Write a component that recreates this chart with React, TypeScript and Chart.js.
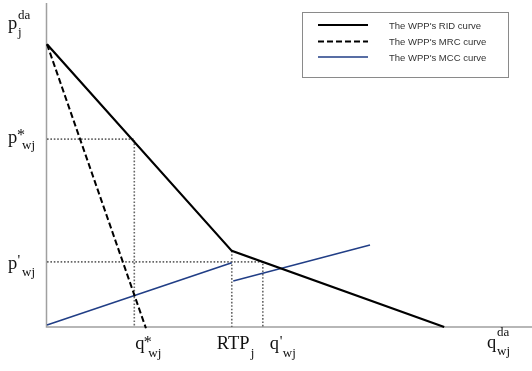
import React, { useEffect, useRef } from "react";
import { Chart, registerables } from "chart.js";

Chart.register(...registerables);

// Curves (arbitrary quantity / price units)
const ridX = [0, 38.1, 81.9];
const ridY = [87.3, 23.5, 0];
const mrcX = [0, 20.4];
const mrcY = [87.3, -0.4];
const mcc1X = [0, 38.1];
const mcc1Y = [0.6, 19.8];
const mcc2X = [38.4, 66.6];
const mcc2Y = [14.2, 25.3];

// Reference levels
const pStar = 58;
const qStar = 18;
const pPrime = 20.1;
const qPrime = 44.5;
const rtpQ = 38.1;
const rtpP = 23.5;

const legendLabels = ["The WPP's RID curve", "The WPP's MRC curve", "The WPP's MCC curve"];

const zip = (xs: number[], ys: number[]) => xs.map((x, i) => ({ x, y: ys[i] }));

const SERIF = "'Liberation Serif', 'Times New Roman', serif";
const MAIN = 18.5;
const SMALL = 13;

export default function App() {
  const ref = useRef<HTMLCanvasElement | null>(null);

  useEffect(() => {
    if (!ref.current) return;
    const dotted = {
      borderColor: "#666",
      borderWidth: 1.6,
      borderDash: [1.6, 1.8],
      pointRadius: 0,
      showLine: true,
      clip: false as any,
      tension: 0,
    };
    const navy = "#213e86";

    const overlay = {
      id: "overlay",
      beforeDatasetsDraw(chart: any) {
        const { ctx, chartArea } = chart;
        ctx.save();
        ctx.strokeStyle = "#a0a0a0";
        ctx.lineWidth = 1.5;
        ctx.beginPath();
        ctx.moveTo(chartArea.left - 0.5, chartArea.top);
        ctx.lineTo(chartArea.left - 0.5, chartArea.bottom);
        ctx.lineTo(chartArea.right, chartArea.bottom);
        ctx.stroke();
        ctx.restore();
      },
      afterDraw(chart: any) {
        const { ctx } = chart;
        const xs = chart.scales.x;
        const ys = chart.scales.y;
        const txt = (s: string, x: number, y: number, size: number) => {
          ctx.font = `${size}px ${SERIF}`;
          ctx.fillText(s, x, y);
        };
        ctx.save();
        ctx.fillStyle = "#111";
        ctx.textBaseline = "alphabetic";
        ctx.textAlign = "left";

        // y axis title
        txt("p", 8, 29, MAIN);
        txt("da", 18, 19, SMALL);
        txt("j", 18, 36, SMALL);

        // p*
        const ps = ys.getPixelForValue(pStar);
        txt("p", 8, ps + 4, MAIN);
        txt("*", 17, ps + 1, 16);
        txt("wj", 22, ps + 10, SMALL);

        // p'
        const pp = ys.getPixelForValue(pPrime);
        txt("p", 8, pp + 7, MAIN);
        txt("'", 17.5, pp + 3, 15);
        txt("wj", 22, pp + 14, SMALL);

        const base = 349;
        // q*
        const qs = xs.getPixelForValue(qStar);
        txt("q", qs + 1, base, MAIN);
        txt("*", qs + 9.5, base - 2, 16);
        txt("wj", qs + 14, base + 8, SMALL);

        // RTP_j
        const rt = xs.getPixelForValue(rtpQ);
        txt("RTP", rt - 15, base, MAIN);
        txt("j", rt + 19, base + 8, SMALL);

        // q'
        const qp = xs.getPixelForValue(qPrime);
        txt("q", qp + 7, base, MAIN);
        txt("'", qp + 17, base - 3, 15);
        txt("wj", qp + 20, base + 8, SMALL);

        // q^da_wj
        txt("q", 487, base - 1, MAIN);
        txt("da", 497, 336, SMALL);
        txt("wj", 497, 355, SMALL);

        // legend
        ctx.strokeStyle = "#8a8a8a";
        ctx.lineWidth = 1;
        ctx.strokeRect(302.5, 12.5, 206, 65);
        const ds = chart.data.datasets;
        const rowsY = [25, 41.5, 57];
        for (let i = 0; i < 3; i++) {
          const d = ds[i];
          ctx.beginPath();
          ctx.strokeStyle = d.borderColor;
          ctx.lineWidth = d.borderWidth;
          ctx.setLineDash(d.borderDash || []);
          ctx.moveTo(318, rowsY[i]);
          ctx.lineTo(368, rowsY[i]);
          ctx.stroke();
          ctx.setLineDash([]);
          ctx.fillStyle = "#333";
          ctx.font = "9.5px 'Liberation Sans', Arial, sans-serif";
          ctx.textBaseline = "middle";
          ctx.fillText(legendLabels[i], 389, rowsY[i] + 1);
        }
        ctx.restore();
      },
    };

    const chart = new Chart(ref.current, {
      type: "line",
      data: {
        datasets: [
          {
            label: legendLabels[0],
            data: zip(ridX, ridY),
            borderColor: "#000",
            borderWidth: 2.2,
            pointRadius: 0,
            clip: false as any,
            tension: 0,
          },
          {
            label: legendLabels[1],
            data: zip(mrcX, mrcY),
            borderColor: "#000",
            borderWidth: 2,
            borderDash: [6, 3],
            pointRadius: 0,
            clip: false as any,
            tension: 0,
          },
          {
            label: legendLabels[2],
            data: zip(mcc1X, mcc1Y),
            borderColor: navy,
            borderWidth: 1.6,
            pointRadius: 0,
            clip: false as any,
            tension: 0,
          },
          {
            label: "mcc2",
            data: zip(mcc2X, mcc2Y),
            borderColor: navy,
            borderWidth: 1.4,
            pointRadius: 0,
            clip: false as any,
            tension: 0,
          },
          { label: "d1", data: [{ x: 0, y: pStar }, { x: qStar, y: pStar }, { x: qStar, y: 0 }], ...dotted },
          { label: "d2", data: [{ x: 0, y: pPrime }, { x: qPrime, y: pPrime }, { x: qPrime, y: 0 }], ...dotted },
          { label: "d3", data: [{ x: rtpQ, y: rtpP }, { x: rtpQ, y: 0 }], ...dotted },
        ] as any,
      },
      options: {
        animation: false,
        responsive: false,
        events: [],
        layout: { padding: { left: 47, right: 0, top: 3, bottom: 44 } },
        plugins: { legend: { display: false }, tooltip: { enabled: false } },
        scales: {
          x: { type: "linear", display: false, min: 0, max: 100 },
          y: { type: "linear", display: false, min: 0, max: 100 },
        },
      },
      plugins: [overlay],
    });
    return () => chart.destroy();
  }, []);

  return (
    <div style={{ position: "absolute", left: 0, top: 0, width: 532, height: 371, background: "#fff" }}>
      <canvas ref={ref} width={532} height={371} />
    </div>
  );
}
